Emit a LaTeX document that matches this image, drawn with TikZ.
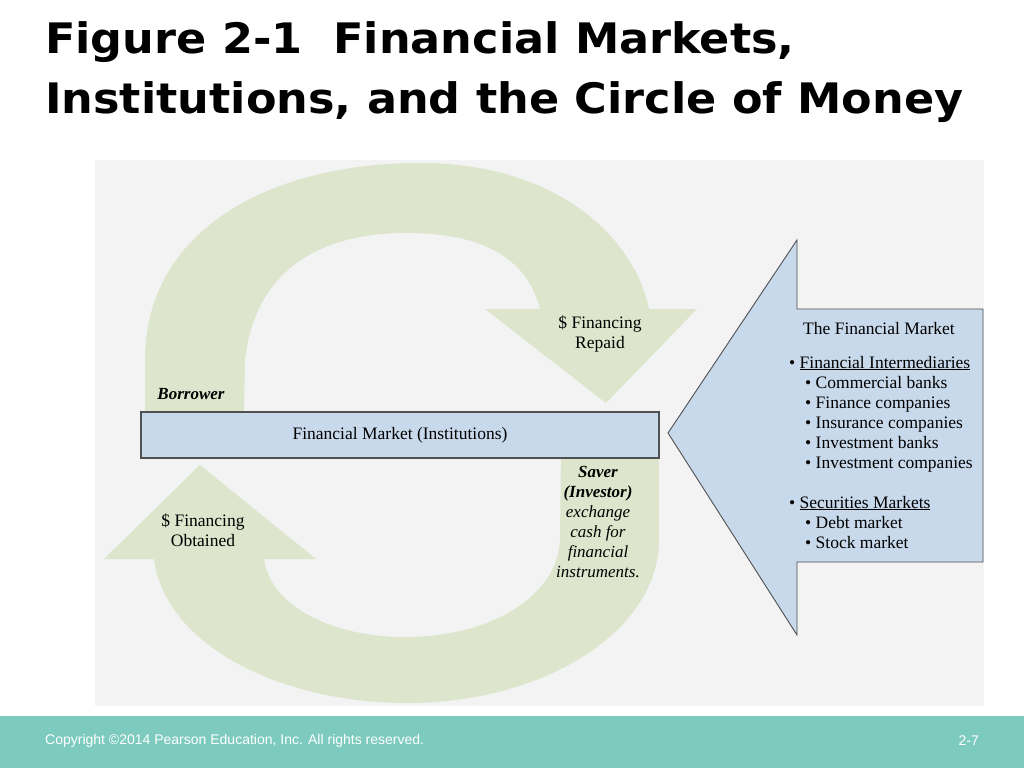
\documentclass[tikz,border=0pt]{standalone}
\usepackage{fontspec}
\setmainfont{Liberation Serif}
\newfontfamily\titlefont[FakeStretch=1.06]{DejaVu Sans}
\newfontfamily\footfont{Liberation Sans}
\usepackage{tikz}
\usetikzlibrary{positioning}
\definecolor{panel}{RGB}{243,243,243}
\definecolor{band}{RGB}{221,230,204}
\definecolor{inst}{RGB}{200,217,236}
\definecolor{foot}{RGB}{125,203,190}
\definecolor{edge}{RGB}{80,80,80}
\newcommand{\drawedge}{\filldraw[fill=inst, draw=edge, line width=0.9pt]}
\begin{document}
\begin{tikzpicture}[x=1pt,y=-1pt,
    plain/.style={inner sep=0pt, font=\fontsize{17.5}{20}\selectfont},
    listline/.style={plain, anchor=base west},
    titleline/.style={inner sep=0pt, anchor=base west, font=\titlefont\bfseries\fontsize{42}{60}\selectfont}]
\useasboundingbox (0,0) rectangle (1024,768);
\fill[white] (0,0) rectangle (1024,768);
\fill[panel] (95,160) rectangle (984,706);
\fill[foot] (0,716) rectangle (1024,768);
\node[titleline] (title1) at (45,53) {Figure 2-1\ \ Financial Markets,};
\node[titleline] (title2) at (45,113) {Institutions, and the Circle of Money};
% the two green bands
\fill[band] (145,412) -- (145,360) .. controls (145,230) and (270,163) .. (420,163) .. controls (560,163) and (635,240) .. (649,309) -- (697,309) -- (606,403) -- (485,309) -- (540,309) .. controls (525,250) and (470,233) .. (406,233) .. controls (320,233) and (255,270) .. (245,360) -- (244,412) -- cycle;
\fill[band] (154,559) .. controls (165,645) and (280,703) .. (407,703) .. controls (546,703) and (659,630) .. (659,540) -- (659,450) -- (561,450) -- (560,540) .. controls (558,594) and (494,637) .. (405,637) .. controls (330,637) and (270,605) .. (264,559) -- (316,559) -- (200,465) -- (104,559) -- cycle;
\drawedge (668,433) -- (797,240) -- (797,309) -- (983,309) -- (983,562) -- (797,562) -- (797,635) -- cycle;
\node[plain, draw=edge, fill=inst, line width=1.2pt, minimum width=518, minimum height=46] (inst) at (400,435) {Financial Market (Institutions)};
\node[plain, font=\fontsize{17}{20}\selectfont\bfseries\itshape] (borrower) at (191,394) {Borrower};
\node[plain, align=center] (repaid) at (600,334) {\$ Financing\\Repaid};
\node[plain, align=center] (obtained) at (203,530) {\$ Financing\\Obtained};
\node[plain, align=center, font=\fontsize{17}{20}\selectfont] (saver) at (598,522) {\textbf{\textit{Saver}}\\\textbf{\textit{(Investor)}}\\\textit{exchange}\\\textit{cash for}\\\textit{financial}\\\textit{instruments.}};
\node[listline] (fmhead) at (803,334) {The Financial Market};
\foreach \tx/\ty/\txt [count=\i] in {789/368/{\textbullet\ \underline{Financial Intermediaries}},
    805/388/{\textbullet\ Commercial banks}, 805/408/{\textbullet\ Finance companies},
    805/428/{\textbullet\ Insurance companies}, 805/448/{\textbullet\ Investment banks},
    805/468/{\textbullet\ Investment companies}, 789/508/{\textbullet\ \underline{Securities Markets}},
    805/528/{\textbullet\ Debt market}, 805/548/{\textbullet\ Stock market}}
  \node[listline] (fmitem\i) at (\tx,\ty) {\txt};
\node[inner sep=0pt, anchor=west, text=white, font=\footfont\fontsize{14}{16}\selectfont] (copy) at (45,741) {Copyright \textcopyright2014 Pearson Education, Inc. All rights reserved.};
\node[inner sep=0pt, anchor=east, text=white, font=\footfont\fontsize{14}{16}\selectfont] (page) at (979,741) {2-7};
\end{tikzpicture}
\end{document}
